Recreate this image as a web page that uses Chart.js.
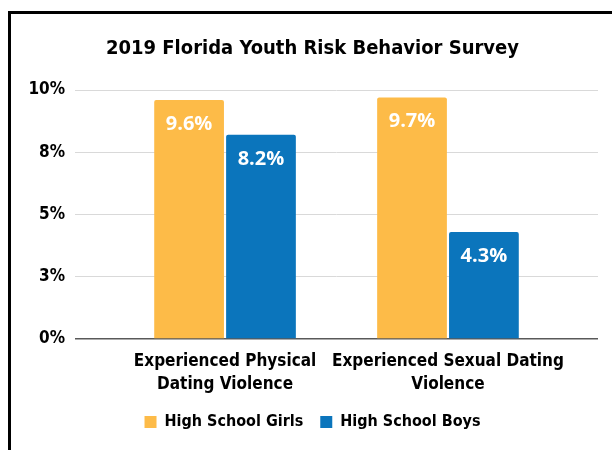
<!DOCTYPE html>
<html>
<head>
<meta charset="utf-8">
<script src="https://cdn.jsdelivr.net/npm/chart.js@4/dist/chart.umd.min.js"></script>
<style>
  html, body { margin: 0; padding: 0; background: #fff; }
  #wrap { position: relative; width: 612px; height: 450px; overflow: hidden; }
  #frame { position: absolute; left: 8px; top: 11px; width: 700px; height: 500px;
           border-top: 3px solid #000; border-left: 3px solid #000; }
  canvas { position: absolute; left: 0; top: 0; }
</style>
</head>
<body>
<div id="wrap">
  <div id="frame"></div>
  <canvas id="chart" width="612" height="450"></canvas>
</div>
<script>
// ---------- DATA ----------
const titleText = "2019 Florida Youth Risk Behavior Survey";
const categories = [
  ["Experienced Physical", "Dating Violence"],
  ["Experienced Sexual Dating", "Violence"]
];
const categoryPositions = [1, 2];
const seriesNames = ["High School Girls", "High School Boys"];
const girls = [9.6, 9.7];
const boys = [8.2, 4.3];
const yTicks = [0, 2.5, 5, 7.5, 10];
const yTickLabels = ["0%", "3%", "5%", "8%", "10%"];

const axisFont = "'DejaVu Sans Condensed', 'DejaVu Sans', sans-serif";
const labelFont = "'Open Sans', sans-serif";

// value labels inside the top of each bar
const valueLabels = {
  id: "valueLabels",
  afterDatasetsDraw(chart) {
    const ctx = chart.ctx;
    ctx.save();
    ctx.fillStyle = "#fff";
    ctx.font = "bold 20px " + labelFont;
    ctx.textAlign = "center";
    ctx.textBaseline = "middle";
    chart.data.datasets.forEach((ds, i) => {
      chart.getDatasetMeta(i).data.forEach((bar, j) => {
        ctx.fillText(ds.data[j].y.toFixed(1) + "%", bar.x, bar.y + 24);
      });
    });
    ctx.restore();
  }
};

const toPoints = vals => vals.map((v, i) => ({ x: categoryPositions[i], y: v }));

new Chart(document.getElementById("chart"), {
  type: "bar",
  data: {
    datasets: [
      { label: seriesNames[0], data: toPoints(girls), backgroundColor: "#FDBB48", borderRadius: 2, borderSkipped: "bottom" },
      { label: seriesNames[1], data: toPoints(boys), backgroundColor: "#0B75BC", borderRadius: 2, borderSkipped: "bottom" }
    ]
  },
  options: {
    responsive: false,
    animation: false,
    layout: { padding: { top: 0, right: 14, bottom: 10, left: 27 } },
    datasets: { bar: { categoryPercentage: 0.645, barPercentage: 0.97 } },
    scales: {
      x: {
        type: "linear",
        offset: false,
        min: 0.327,
        max: 2.673,
        grid: { display: false, offset: false },
        border: { display: false },
        afterBuildTicks: scale => { scale.ticks = categoryPositions.map(v => ({ value: v })); },
        afterFit: scale => { scale.height = 58; },
        ticks: {
          padding: 3,
          color: "#000",
          font: { family: axisFont, size: 17, weight: "bold", lineHeight: 1.35 },
          maxRotation: 0,
          autoSkip: false,
          callback: (v, i) => categories[i]
        }
      },
      y: {
        min: 0,
        max: 10,
        border: { display: false },
        grid: {
          drawTicks: false,
          color: c => (c.tick && c.tick.value === 0 ? "#595959" : "#D9D9D9"),
          lineWidth: c => (c.tick && c.tick.value === 0 ? 1.5 : 1)
        },
        afterBuildTicks: scale => { scale.ticks = yTicks.map(v => ({ value: v })); },
        afterFit: scale => { scale.width = 48; },
        ticks: {
          padding: 10,
          color: "#000",
          font: { family: axisFont, size: 17, weight: "bold" },
          callback: (v, i) => yTickLabels[i]
        }
      }
    },
    plugins: {
      title: {
        display: true,
        text: titleText,
        color: "#000",
        font: { family: axisFont, size: 20, weight: "bold" },
        padding: { top: 37, bottom: 29 }
      },
      tooltip: { enabled: false },
      legend: {
        position: "bottom",
        labels: {
          boxWidth: 12,
          boxHeight: 12,
          padding: 17,
          color: "#000",
          font: { family: axisFont, size: 16, weight: "bold" }
        }
      }
    }
  },
  plugins: [valueLabels]
});
</script>
</body>
</html>
